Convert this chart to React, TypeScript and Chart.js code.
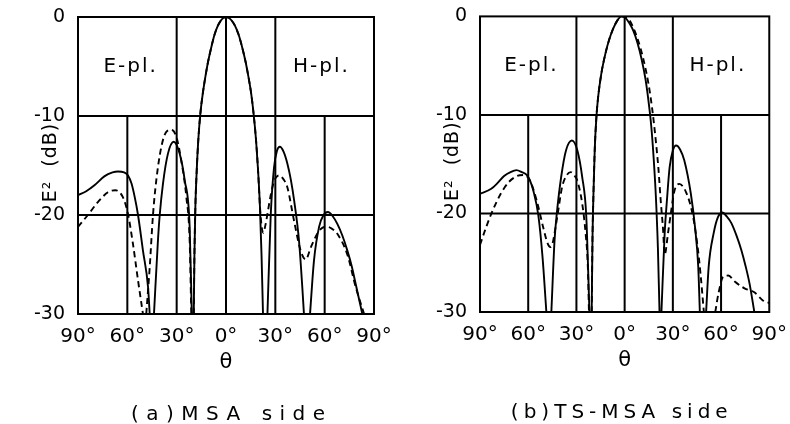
import { useEffect, useRef } from "react";
import { Chart, registerables } from "chart.js";

Chart.register(...registerables);

// ---- axes / ticks ----
const xTickValues = [-90, -60, -30, 0, 30, 60, 90];
const yTickValues = [0, -10, -20, -30];
const fullGridX = [-30, 0, 30];
const partialGridX = [-60, 60];
const gridY = [-10, -20];

// ---- panel (a) MSA side: theta (negative = E-plane side), E^2 in dB ----
const thetaA_solid = [
  -90, -85, -80, -74, -69, -65.7, -62, -59.6, -57.5, -55.5, -53.5, -50.5, -47.4, -46.4, -45,
  -43.8, -41.4, -40.3, -38.3, -35.3, -31.8, -28.2, -25.1, -22.1, -20.8, -20.2,
  -19.6, -19.2, -18.6, -17.8, -16.8, -15.5, -14, -12.5, -11, -9, -7, -5, -3, -1.5, 0,
  1.6, 3.3, 5.5, 7.7, 9.9, 12, 13.6, 15.2, 16.8, 18.3, 19.5, 20.6, 21.6, 22.5, 24,
  25.2, 27.2, 29.2, 31, 32.8, 35, 37.3, 39.5, 41.4, 44.4, 46.4, 47.4, 49,
  51.1, 53.5, 56.6, 59.3, 62, 64.8, 67.7, 70.8, 73.8, 76.5, 78.9, 82.9,
];
const dbA_solid = [
  -18.0, -17.6, -17.0, -16.1, -15.7, -15.6, -15.7, -16.0, -16.8, -18.2, -20, -23.6, -27.3, -30, null,
  -30, -22.6, -20, -16.8, -13.8, -12.6, -13.8, -16.5, -21.2, -30, null,
  -30, -24, -19, -15.5, -12.3, -9.6, -7.6, -6.0, -4.6, -3.1, -1.8, -0.9, -0.33, -0.08, 0,
  -0.08, -0.33, -0.9, -1.8, -3.1, -4.6, -6.0, -7.6, -9.8, -12.5, -15.5, -19, -24, -30, null,
  -30, -20, -15.2, -13.5, -13.1, -13.6, -14.8, -16.5, -18.5, -22.6, -27.3, -30, null,
  -30, -24.6, -21.2, -20.0, -19.7, -20.1, -20.9, -22.1, -23.6, -25.2, -27, -30,
];
const thetaA_dashed = [
  -90, -84, -77.9, -71.8, -67.3, -62.7, -59.6, -56.6, -53.5, -50.5, -49.5,
  -48.5, -46.4, -44.4, -42.4, -39.3, -36.3, -33.3, -30.2, -27.2, -24.1, -22.1, -21.1, -20.3,
  -19.6, -19.2, -18.6, -17.8, -16.8, -15.5, -14, -12.5, -11, -9, -7, -5, -3, -1.5, 0,
  1.6, 3.3, 5.5, 7.7, 9.9, 12, 13.6, 15.2, 16.8, 18.3, 19.5, 20.6, 21.7, 22.7,
  24, 25.5, 27.2, 29.2, 31, 32.5, 35, 37.3, 41.4, 45.4, 48.5, 51.5, 55.5, 58.5, 61.6, 64.5, 67.7, 73.8, 78.9, 84,
];
const dbA_dashed = [
  -21.2, -20.0, -18.7, -17.7, -17.5, -18.2, -19.9, -22.9, -26.6, -30, null,
  -30, -25.3, -20, -16.5, -13.1, -11.6, -11.4, -12.1, -14.5, -18.2, -22.6, -30, null,
  -30, -24, -19, -15.5, -12.3, -9.6, -7.6, -6.0, -4.6, -3.1, -1.8, -0.9, -0.33, -0.08, 0,
  -0.08, -0.33, -0.9, -1.8, -3.1, -4.6, -6.0, -7.6, -9.8, -12.5, -15.5, -19, -21.2, -21.8,
  -21.0, -19.6, -18.0, -16.6, -16.1, -16.0, -16.4, -17.2, -20.6, -23.6, -24.5, -23.3, -21.9, -21.3, -21.2, -21.4, -21.9, -24, -27.3, -30,
];

// ---- panel (b) TS-MSA side ----
const thetaB_solid = [
  -90, -83, -79, -75, -71, -67.3, -64, -60.8, -58.8, -56.8, -53.7, -51.1, -48.7, -47,
  -45.6, -43.6, -42.2, -39.5, -36.5, -32.8, -29.4, -26.4, -23.9, -21.9, -21.2,
  -20.5, -20, -19.4, -18.6, -17.6, -16.5, -14.6, -12, -9.5, -7, -4.5, -2,
  0.5, 3, 5.5, 8, 10.5, 13, 15, 16.6, 18.1, 19.5, 20.7, 21.7, 22.3,
  22.9, 24.9, 26.3, 28, 30, 32, 34.5, 37.1, 41.2, 43.8, 45.8, 46.8, 48.5,
  50.7, 52.3, 55.4, 58, 60.8, 63.5, 66.5, 69.5, 72.6, 75.2, 77.7, 80.7,
];
const dbB_solid = [
  -18.0, -17.5, -16.9, -16.2, -15.8, -15.6, -15.8, -16.1, -16.7, -17.7, -20.2, -24.4, -30, null,
  -30, -22.7, -20, -16.3, -13.6, -12.6, -13.6, -16.3, -20.2, -30, null,
  -30, -22.5, -18, -13.5, -10.3, -8.2, -5.9, -3.8, -2.3, -1.2, -0.4, 0,
  -0.15, -0.7, -1.5, -2.7, -4.3, -6.4, -8.8, -11.2, -14.5, -18.5, -23.5, -30, null,
  -30, -22, -18.7, -15.3, -13.6, -13.1, -13.5, -14.6, -18, -21.4, -25.4, -30, null,
  -30, -25.4, -22, -20.4, -19.9, -20.3, -21.0, -22.2, -23.7, -25.3, -27.1, -30,
];
const thetaB_dashed = [
  -90, -86.2, -82.1, -77.1, -72, -66.9, -62.8, -58.8, -54.7, -50.7, -48, -46.2, -44.8, -43.6, -41.6,
  -38.9, -36, -33.5, -31.5, -29.4, -26.4, -24.3, -22.9, -22.2, -21.3,
  -20.5, -20, -19.4, -18.6, -17.6, -16.5, -14.6, -12, -9.5, -7, -4.5, -2,
  0.5, 3, 6.3, 10, 13, 15, 17, 19, 21, 22.4, 23.9, 24.9,
  27, 29, 31, 34, 38.1, 42.2, 45.2, 47.2, 49.3, 53,
  56.4, 58.4, 61.4, 64.5, 68.5, 74.6, 80.7, 85.8, 90,
];
const dbB_dashed = [
  -23.2, -21.4, -19.7, -18.0, -16.8, -16.2, -16.1, -16.7, -18.7, -21.4, -23.0, -23.4, -23.0, -22, -20,
  -17.3, -16.1, -15.8, -16.1, -16.7, -19, -22, -25.4, -30, null,
  -30, -22.5, -18, -13.5, -10.3, -8.2, -5.9, -3.8, -2.3, -1.2, -0.4, 0,
  -0.1, -0.4, -1.5, -3.3, -5.3, -7.0, -9.2, -12, -15.4, -18.6, -21.6, -24.2,
  -22, -19.7, -17.7, -17.0, -17.8, -20, -23.1, -26.1, -30, null,
  -30, -28.1, -26.4, -26.3, -26.9, -27.6, -28.0, -28.8, -29.1,
];

const FONT = "'DejaVu Sans', 'Liberation Sans', sans-serif";

type PanelCfg = {
  caption: string;
  captionSpacing: number;
  captionTheta: number;
  solidT: number[];
  solidV: (number | null)[];
  dashT: number[];
  dashV: (number | null)[];
  padTop: number;
  padRight: number;
  yWidth: number;
  xHeight: number;
};

const toPoints = (t: number[], v: (number | null)[]) => t.map((x, i) => ({ x, y: v[i] }));

const framePlugin = {
  id: "frame",
  beforeDatasetsDraw(chart: any) {
    const { ctx, chartArea: a, scales } = chart;
    const x = scales.x;
    const y = scales.y;
    ctx.save();
    ctx.strokeStyle = "#000";
    ctx.lineWidth = 2;
    ctx.beginPath();
    for (const v of gridY) {
      const py = y.getPixelForValue(v);
      ctx.moveTo(a.left, py);
      ctx.lineTo(a.right, py);
    }
    for (const v of fullGridX) {
      const px = x.getPixelForValue(v);
      ctx.moveTo(px, a.top);
      ctx.lineTo(px, a.bottom);
    }
    for (const v of partialGridX) {
      const px = x.getPixelForValue(v);
      ctx.moveTo(px, y.getPixelForValue(-10));
      ctx.lineTo(px, a.bottom);
    }
    ctx.stroke();
    ctx.strokeRect(a.left, a.top, a.right - a.left, a.bottom - a.top);
    ctx.restore();
  },
  afterDraw(chart: any, _args: any, opts: any) {
    const { ctx, chartArea: a, scales } = chart;
    const x = scales.x;
    const y = scales.y;
    ctx.save();
    ctx.fillStyle = "#000";
    ctx.textAlign = "center";
    ctx.textBaseline = "middle";
    // plane labels
    ctx.font = `20px ${FONT}`;
    (ctx as any).letterSpacing = "2px";
    ctx.fillText("E-pl.", x.getPixelForValue(-58), y.getPixelForValue(-5));
    ctx.fillText("H-pl.", x.getPixelForValue(58), y.getPixelForValue(-5));
    // theta
    (ctx as any).letterSpacing = "0px";
    ctx.font = `21px ${FONT}`;
    ctx.fillText("θ", x.getPixelForValue(0), a.bottom + 49);
    // caption
    ctx.font = `20px ${FONT}`;
    (ctx as any).letterSpacing = `${opts.captionSpacing}px`;
    ctx.fillText(opts.caption, x.getPixelForValue(opts.captionTheta), a.bottom + 101);
    // y title
    (ctx as any).letterSpacing = "1px";
    ctx.font = `19px ${FONT}`;
    ctx.translate(a.left - 27, y.getPixelForValue(-14.7));
    ctx.rotate(-Math.PI / 2);
    ctx.fillText("E²  (dB)", 0, 0);
    ctx.restore();
  },
};

function Panel({ cfg }: { cfg: PanelCfg }) {
  const ref = useRef<HTMLCanvasElement>(null);
  useEffect(() => {
    if (!ref.current) return;
    const chart = new Chart(ref.current, {
      type: "line",
      data: {
        datasets: [
          {
            data: toPoints(cfg.solidT, cfg.solidV) as any,
            borderColor: "#000",
            borderWidth: 1.9,
            pointRadius: 0,
            fill: false,
            cubicInterpolationMode: "monotone",
            spanGaps: false,
          },
          {
            data: toPoints(cfg.dashT, cfg.dashV) as any,
            borderColor: "#000",
            borderWidth: 1.9,
            borderDash: [6, 4],
            pointRadius: 0,
            fill: false,
            cubicInterpolationMode: "monotone",
            spanGaps: false,
          },
        ],
      },
      options: {
        animation: false,
        responsive: false,
        devicePixelRatio: 1,
        layout: { padding: { left: 0, top: cfg.padTop, right: cfg.padRight, bottom: 0 } },
        plugins: {
          legend: { display: false },
          tooltip: { enabled: false },
          frame: { caption: cfg.caption, captionSpacing: cfg.captionSpacing, captionTheta: cfg.captionTheta },
        } as any,
        scales: {
          x: {
            type: "linear",
            min: -90,
            max: 90,
            grid: { display: false },
            border: { display: false },
            afterBuildTicks: (s: any) => {
              s.ticks = xTickValues.map((v) => ({ value: v }));
            },
            afterFit: (s: any) => {
              s.height = cfg.xHeight;
            },
            ticks: {
              autoSkip: false,
              maxRotation: 0,
              padding: 3,
              color: "#000",
              font: { family: FONT, size: 20 },
              callback: (v: any) => `${Math.abs(Number(v))}°`,
            },
          },
          y: {
            type: "linear",
            min: -30,
            max: 0,
            grid: { display: false },
            border: { display: false },
            afterBuildTicks: (s: any) => {
              s.ticks = yTickValues.map((v) => ({ value: v }));
            },
            afterFit: (s: any) => {
              s.width = cfg.yWidth;
            },
            ticks: {
              padding: 5,
              color: "#000",
              font: { family: FONT, size: 19 },
              callback: (v: any) => String(v),
            },
          },
        },
      },
      plugins: [framePlugin as any],
    });
    return () => chart.destroy();
  }, [cfg]);
  return <canvas ref={ref} width={395} height={424} style={{ display: "block" }} />;
}

const panelA: PanelCfg = {
  caption: "(a)MSA side",
  captionSpacing: 7.5,
  captionTheta: 3.5,
  solidT: thetaA_solid,
  solidV: dbA_solid,
  dashT: thetaA_dashed,
  dashV: dbA_dashed,
  padTop: 17,
  padRight: 21,
  yWidth: 78,
  xHeight: 110,
};
const panelB: PanelCfg = {
  caption: "(b)TS-MSA side",
  captionSpacing: 5,
  captionTheta: -1.8,
  solidT: thetaB_solid,
  solidV: dbB_solid,
  dashT: thetaB_dashed,
  dashV: dbB_dashed,
  padTop: 15,
  padRight: 14,
  yWidth: 85,
  xHeight: 112,
};

export default function App() {
  return (
    <div
      style={{
        position: "absolute",
        left: 0,
        top: 0,
        width: 790,
        height: 424,
        background: "#fff",
        display: "flex",
      }}
    >
      <Panel cfg={panelA} />
      <Panel cfg={panelB} />
    </div>
  );
}
